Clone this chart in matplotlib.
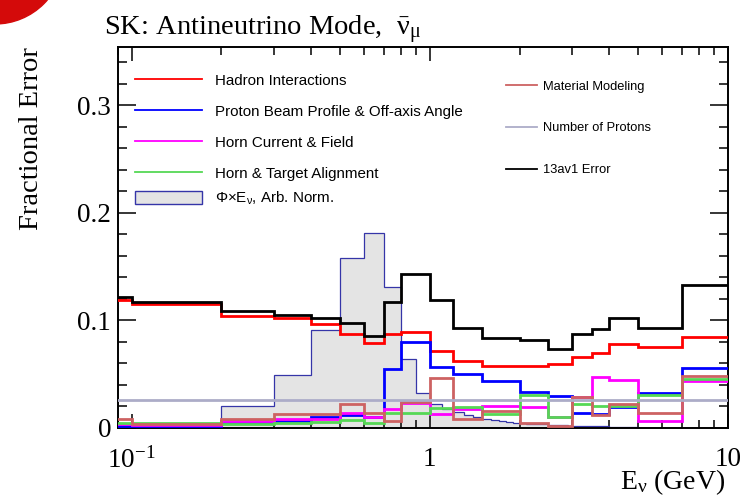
import matplotlib
matplotlib.use('Agg')
import matplotlib.pyplot as plt
import matplotlib.patches as mpatches
from matplotlib.lines import Line2D
from matplotlib.ticker import FixedLocator, LogLocator, NullFormatter, MultipleLocator
import numpy as np

plt.rcParams['mathtext.fontset'] = 'stix'
plt.rcParams['mathtext.default'] = 'regular'
serif = 'Liberation Serif'
sans = 'Liberation Sans'

# bin edges of the error histograms (GeV)
edges = [0.0, 0.1, 0.2, 0.3, 0.4, 0.5, 0.6, 0.7, 0.8, 1.0, 1.2, 1.5,
         2.0, 2.5, 3.0, 3.5, 4.0, 5.0, 7.0, 10.0]

# fractional errors per bin
total_13av1 = [0.121, 0.1165, 0.108, 0.105, 0.1015, 0.097, 0.085, 0.117, 0.1425, 0.119,
               0.093, 0.0835, 0.0814, 0.0727, 0.087, 0.0916, 0.102, 0.093, 0.133]
hadron = [0.1186, 0.1146, 0.104, 0.1016, 0.096, 0.087, 0.079, 0.087, 0.0886, 0.0715,
          0.0615, 0.0575, 0.0575, 0.059, 0.066, 0.0696, 0.078, 0.075, 0.0845]
beam_profile = [0.001, 0.0015, 0.005, 0.0058, 0.010, 0.012, 0.010, 0.054, 0.0795, 0.0566,
                0.0495, 0.0435, 0.033, 0.029, 0.0138, 0.0123, 0.019, 0.0324, 0.0556]
horn_current = [0.003, 0.0026, 0.006, 0.0079, 0.0079, 0.0132, 0.0096, 0.0175, 0.023, 0.0123,
                0.017, 0.0197, 0.0194, 0.0095, 0.028, 0.047, 0.044, 0.0063, 0.043]
alignment = [0.004, 0.0045, 0.0033, 0.0045, 0.0055, 0.0066, 0.0045, 0.0138, 0.0132, 0.0184,
             0.0188, 0.0123, 0.030, 0.0095, 0.022, 0.0197, 0.020, 0.0305, 0.0455]
material = [0.0079, 0.003, 0.0076, 0.0126, 0.0126, 0.022, 0.0132, 0.0063, 0.0234, 0.046,
            0.0076, 0.0153, 0.0045, 0.0014, 0.0287, 0.0116, 0.0216, 0.0139, 0.048]
n_protons = [0.026] * 19

# flux x energy, arbitrary normalisation (0.1 GeV bins up to 5 GeV, then one bin to 10)
flux_edges = [0.0, 0.1, 0.2, 0.3, 0.4, 0.5, 0.6, 0.7, 0.8, 0.9, 1.0,
              1.1, 1.2, 1.3, 1.4, 1.5, 1.6, 1.7, 1.8, 1.9, 2.0,
              2.1, 2.2, 2.3, 2.4, 2.5, 2.6, 2.7, 2.8, 2.9, 3.0,
              3.1, 3.2, 3.3, 3.4, 3.5, 3.6, 3.7, 3.8, 3.9, 4.0,
              4.1, 4.2, 4.3, 4.4, 4.5, 4.6, 4.7, 4.8, 4.9, 5.0, 10.0]
flux = [0.0, 0.0, 0.020, 0.049, 0.091, 0.158, 0.181, 0.131, 0.064, 0.032,
        0.022, 0.017, 0.014, 0.0115, 0.0095, 0.0082, 0.007, 0.006, 0.0052, 0.0045,
        0.004, 0.0036, 0.0033, 0.003, 0.0028, 0.0026, 0.0024, 0.0022, 0.002, 0.0018,
        0.0017, 0.0016, 0.0015, 0.0014, 0.0014, 0.0013, 0.0012, 0.0011, 0.0011, 0.001,
        0.0009, 0.0008, 0.0007, 0.0006, 0.0005, 0.0004, 0.0003, 0.0002, 0.0001, 0.0001, 0.0]

y_ticks = [0.0, 0.1, 0.2, 0.3]
y_ticklabels = ['0', '0.1', '0.2', '0.3']
x_ticks = [0.1, 1, 10]
x_ticklabels = ['$10^{-1}$', '1', '10']

left_labels = ['Hadron Interactions', 'Proton Beam Profile & Off-axis Angle',
               'Horn Current & Field', 'Horn & Target Alignment']
flux_label = 'Φ×E$_{ν}$, Arb. Norm.'
right_labels = ['Material Modeling', 'Number of Protons', '13av1 Error']

c_flux_fill, c_flux_line = '#e4e4e4', '#3535a8'
c_hadron, c_beam, c_horn, c_align = '#ff0000', '#0000ff', '#ff00ff', '#55d855'
c_mat, c_prot, c_tot = '#cd6262', '#acacc8', '#000000'

fig = plt.figure(figsize=(7.51, 4.96), dpi=100)
ax = fig.add_axes([118 / 751, 1 - 427.5 / 496, 610 / 751, 380.5 / 496])
ax.set_xscale('log')

# log axis can't show 0, so clip the first edge off-screen
e = np.clip(edges, 0.05, None)
fe = np.clip(flux_edges, 0.05, None)

ax.stairs(flux, fe, fill=True, color=c_flux_fill, zorder=1)
ax.stairs(flux, fe, color=c_flux_line, lw=0.9, zorder=2)

lw = 2.0
ax.stairs(hadron, e, baseline=None, color=c_hadron, lw=lw, zorder=3)
ax.stairs(beam_profile, e, baseline=None, color=c_beam, lw=lw, zorder=3)
ax.stairs(horn_current, e, baseline=None, color=c_horn, lw=lw, zorder=3)
ax.stairs(alignment, e, baseline=None, color=c_align, lw=lw, zorder=3)
ax.stairs(material, e, baseline=None, color=c_mat, lw=lw, zorder=4)
ax.stairs(n_protons, e, baseline=None, color=c_prot, lw=lw, zorder=4)
ax.stairs(total_13av1, e, baseline=None, color=c_tot, lw=lw, zorder=5)

ax.set_xlim(0.09, 10)
ax.set_ylim(0, 0.354)

# ROOT-like ticks on all four sides
ax.xaxis.set_major_locator(FixedLocator(x_ticks))
ax.set_xticklabels(x_ticklabels)
ax.xaxis.set_minor_locator(LogLocator(base=10, subs=range(2, 10)))
ax.xaxis.set_minor_formatter(NullFormatter())
ax.yaxis.set_major_locator(FixedLocator(y_ticks))
ax.set_yticklabels(y_ticklabels)
ax.yaxis.set_minor_locator(MultipleLocator(0.02))
ax.tick_params(which='both', direction='in', top=True, right=True, width=1.1)
ax.tick_params(axis='x', which='major', length=10, pad=14)
ax.tick_params(axis='x', which='minor', length=6)
ax.tick_params(axis='y', which='major', length=13, pad=5)
ax.tick_params(axis='y', which='minor', length=6.5)
for lab in ax.get_xticklabels() + ax.get_yticklabels():
    lab.set_fontfamily(serif)
    lab.set_fontsize(19.5)
for sp in ax.spines.values():
    sp.set_linewidth(1.4)

ax.set_ylabel('Fractional Error', fontfamily=serif, fontsize=20.5, loc='top')
ax.yaxis.set_label_coords(-0.121, 1.0)
ax.set_xlabel('E$_{ν}$ (GeV)', fontfamily=serif, fontsize=20, loc='right')
ax.xaxis.set_label_coords(0.995, -0.105)

fig.text(104 / 751, 1 - 30 / 496, 'SK: Antineutrino Mode,  $\\bar{ν}_{μ}$',
         fontfamily=serif, fontsize=20.5, ha='left', va='center')

# legends
legend_kw = dict(loc='upper left', frameon=False, borderpad=0, borderaxespad=0)
hl = [Line2D([], [], color=c, lw=1.3) for c in (c_hadron, c_beam, c_horn, c_align)]
leg1 = ax.legend(hl, left_labels, bbox_to_anchor=(0.028, 0.930),
                 prop={'family': sans, 'size': 10.9}, handlelength=4.4,
                 handletextpad=0.85, labelspacing=1.12, **legend_kw)
ax.add_artist(leg1)
hp = [mpatches.Patch(facecolor=c_flux_fill, edgecolor=c_flux_line, lw=1.0)]
leg2 = ax.legend(hp, [flux_label], bbox_to_anchor=(0.028, 0.625),
                 prop={'family': sans, 'size': 10.9}, handlelength=4.4,
                 handletextpad=0.85, handleheight=0.93, **legend_kw)
ax.add_artist(leg2)
hr = [Line2D([], [], color=c, lw=1.3) for c in (c_mat, c_prot, c_tot)]
ax.legend(hr, right_labels, bbox_to_anchor=(0.6356, 0.912),
          prop={'family': sans, 'size': 9.3}, handlelength=2.4,
          handletextpad=0.46, labelspacing=2.3, **legend_kw)

# red slide-logo corner at top left
fig.add_artist(mpatches.Ellipse((-5 / 751, 541 / 496), 138 / 751, 138 / 496,
                                transform=fig.transFigure, color='#d40a0a'))

fig.savefig('out.png', dpi=100)
